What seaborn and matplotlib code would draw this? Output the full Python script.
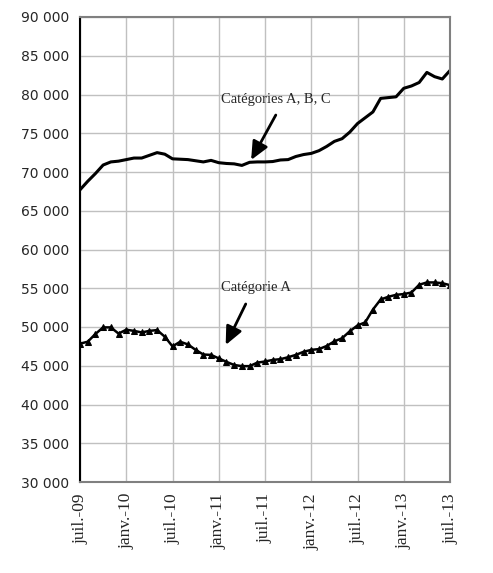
import numpy as np
import pandas as pd
import matplotlib
matplotlib.use('Agg')
import matplotlib.pyplot as plt
import seaborn as sns

# monthly values, juil-09 .. juil-13
months = pd.date_range('2009-07-01', '2013-07-01', freq='MS')
cat_abc = [67700, 68800, 69800, 70900, 71300, 71400, 71600, 71800, 71800, 72150,
           72500, 72300, 71700, 71650, 71600, 71450, 71300, 71500, 71200, 71100,
           71050, 70850, 71250, 71300, 71300, 71350, 71550, 71600, 72000, 72250,
           72400, 72750, 73300, 73950, 74300, 75150, 76250, 77000, 77750, 79500,
           79600, 79700, 80800, 81100, 81550, 82850, 82300, 82000, 83100]
cat_a = [47850, 48100, 49100, 49950, 49950, 49150, 49650, 49500, 49300, 49500,
         49600, 48750, 47500, 48100, 47750, 47050, 46450, 46400, 45950, 45500,
         45100, 44950, 44950, 45400, 45550, 45750, 45850, 46100, 46400, 46800,
         47050, 47150, 47550, 48150, 48550, 49450, 50200, 50600, 52250, 53550,
         53900, 54150, 54250, 54450, 55450, 55750, 55750, 55650, 55400]
tick_labels = ['juil.-09', 'janv.-10', 'juil.-10', 'janv.-11', 'juil.-11',
               'janv.-12', 'juil.-12', 'janv.-13', 'juil.-13']

df = pd.DataFrame({'x': np.arange(len(months)), 'abc': cat_abc, 'a': cat_a})

sns.set_style('white')
plt.rcParams['font.family'] = ['Liberation Serif', 'DejaVu Serif']

fig = plt.figure(figsize=(4.93, 5.73), dpi=100)
ax = fig.add_axes([80 / 493, 1 - 482 / 573, 370 / 493, 465 / 573])

sns.lineplot(data=df, x='x', y='abc', ax=ax, color='black', lw=2.2)
sns.lineplot(data=df, x='x', y='a', ax=ax, color='black', lw=1.8,
             marker='^', markersize=4.5, markeredgecolor='black')

ax.set_xlim(0, 48)
ax.set_ylim(30000, 90000)
ax.set_xticks(np.arange(0, 49, 6))
ax.set_xticklabels(tick_labels, rotation=90, fontsize=12.5)
yt = np.arange(30000, 90001, 5000)
ax.set_yticks(yt)
ax.set_yticklabels([f'{v:,}'.replace(',', ' ') for v in yt],
                   fontsize=10, family='DejaVu Sans')
ax.set_xlabel('')
ax.set_ylabel('')

ax.grid(True, color='#c0c0c0', lw=1)
ax.set_axisbelow(True)
for s in ['top', 'right', 'bottom']:
    ax.spines[s].set_color('#808080')
    ax.spines[s].set_linewidth(1.5)
ax.spines['left'].set_color('black')
ax.spines['left'].set_linewidth(1.5)
ax.tick_params(axis='y', direction='out', length=5, color='black', width=1, pad=3)
ax.tick_params(axis='x', direction='out', length=5, color='#808080', width=1, pad=3)

arrow = dict(arrowstyle='-|>,head_length=1.1,head_width=0.5',
             color='black', lw=2, shrinkA=0, shrinkB=0)
ax.annotate('Catégories A, B, C', xy=(22.2, 71550), xytext=(18.3, 79300),
            fontsize=10.5, va='center', ha='left')
ax.annotate('', xy=(22.2, 71550), xytext=(25.4, 77350), arrowprops=arrow)
ax.annotate('Catégorie A', xy=(18.9, 47680), xytext=(18.3, 55050),
            fontsize=10.5, va='center', ha='left')
ax.annotate('', xy=(18.9, 47680), xytext=(21.5, 52970), arrowprops=arrow)

fig.savefig('out.png', dpi=100)
